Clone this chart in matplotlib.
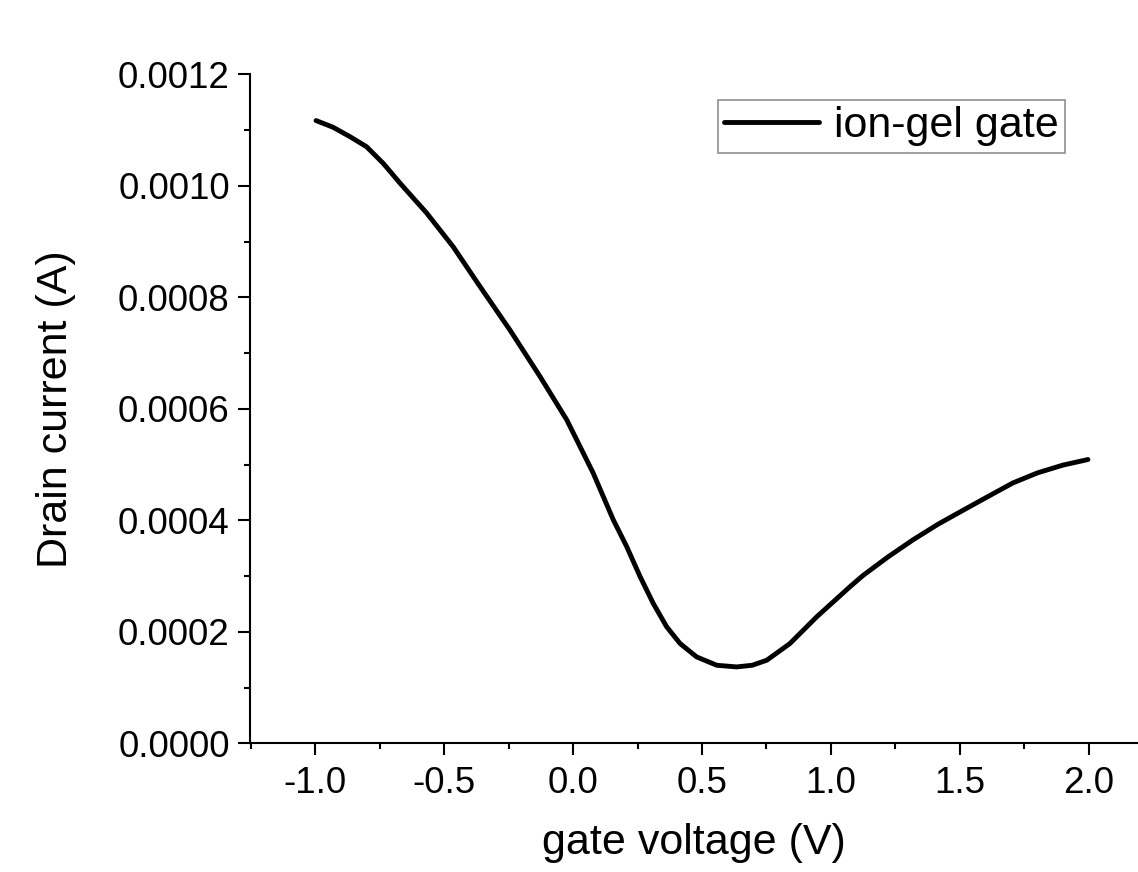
import matplotlib
matplotlib.use("Agg")
import matplotlib.pyplot as plt
from matplotlib.ticker import MultipleLocator
import numpy as np

# gate voltage (V) and drain current (A)
gate_v = [-0.996, -0.93, -0.864, -0.80, -0.735, -0.671, -0.567, -0.465, -0.36,
          -0.244, -0.128, -0.024, 0.078, 0.156, 0.208, 0.260, 0.311, 0.363,
          0.415, 0.479, 0.557, 0.634, 0.695, 0.751, 0.841, 0.945, 1.074, 1.124,
          1.22, 1.318, 1.415, 1.512, 1.61, 1.705, 1.80, 1.899, 1.996]
drain_i = [0.001117, 0.001105, 0.001088, 0.001070, 0.001040, 0.001005, 0.000951,
           0.000891, 0.000819, 0.000741, 0.000658, 0.000580, 0.000485, 0.000401,
           0.000353, 0.000299, 0.000251, 0.000209, 0.000179, 0.000155, 0.000140,
           0.000137, 0.000140, 0.000149, 0.000179, 0.000227, 0.000281, 0.000301,
           0.000334, 0.000365, 0.000393, 0.000418, 0.000443, 0.000467, 0.000485,
           0.000499, 0.000509]
series_name = "ion-gel gate"
xticks = np.arange(-1.0, 2.01, 0.5)
yticks = np.arange(0, 0.00121, 0.0002)

plt.rcParams['font.family'] = ['Liberation Sans', 'DejaVu Sans']
plt.rcParams['font.size'] = 31

fig = plt.figure(figsize=(11.38, 8.72), dpi=100)
ax = fig.add_axes([250/1138, 1 - 743.3/872, 1 - 250/1138, (743.3 - 74.3)/872])

ax.plot(gate_v, drain_i, color='black', lw=3.5, label=series_name,
        solid_capstyle='round', solid_joinstyle='round')

ax.set_xlim(-1.252, 2.19)
ax.set_ylim(0, 0.0012)
ax.set_xticks(xticks)
ax.set_xticklabels([f"{t:.1f}" for t in xticks], fontsize=26.5)
ax.set_yticks(yticks)
ax.set_yticklabels([f"{t:.4f}" for t in yticks], fontsize=26.5)
ax.xaxis.set_minor_locator(MultipleLocator(0.25))
ax.yaxis.set_minor_locator(MultipleLocator(0.0001))

for s in ['top', 'right']:
    ax.spines[s].set_visible(False)
for s in ['left', 'bottom']:
    ax.spines[s].set_linewidth(1.5)

ax.tick_params(which='major', direction='out', length=8.5, width=1.5)
ax.tick_params(which='minor', direction='out', length=4.5, width=1.5)
ax.tick_params(axis='y', which='major', pad=6)
ax.tick_params(axis='x', which='major', pad=8)

ax.set_xlabel("gate voltage (V)", labelpad=16)
ax.set_ylabel("Drain current (A)", labelpad=30)

leg = fig.legend(loc='upper right', bbox_to_anchor=(1065/1138, 1 - 100/872),
                 fancybox=False, frameon=True, edgecolor='0.45',
                 borderpad=0.15, handlelength=2.2, handletextpad=0.35,
                 borderaxespad=0)
leg.get_frame().set_linewidth(1.2)

fig.savefig("out.png", dpi=100)
